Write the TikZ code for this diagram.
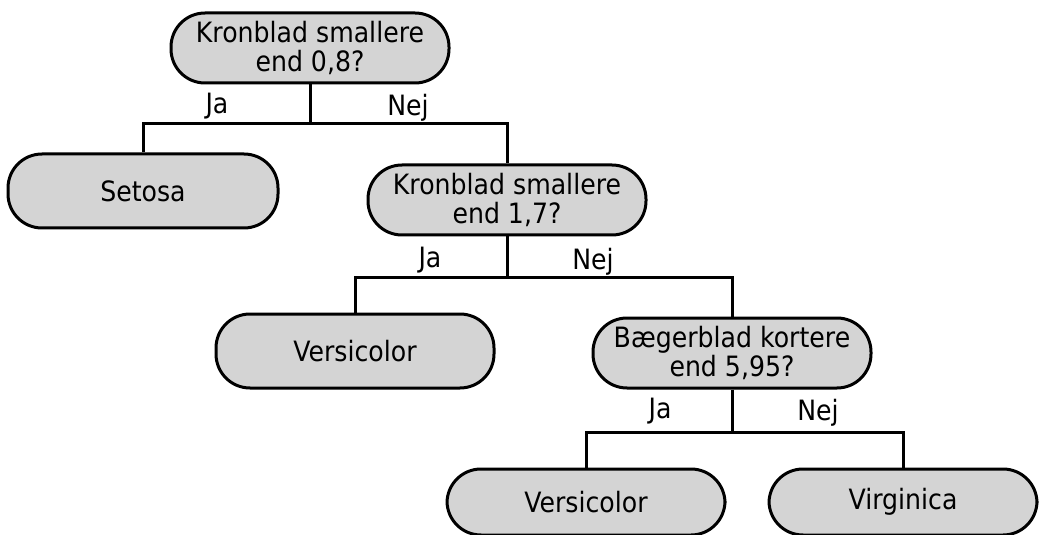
\documentclass[tikz,border=0pt]{standalone}
\usepackage{fontspec}
\setmainfont{DejaVu Sans}[FakeStretch=0.9]
\usepackage{tikz}
\usetikzlibrary{positioning}

\begin{document}
\begin{tikzpicture}[x=0.5pt,y=-0.5pt,
      font=\fontsize{14}{14.2}\selectfont,
      qbox/.style={draw,line width=1.5pt,fill=black!17,rounded corners=17pt,align=center,minimum width=139pt,minimum height=35pt,inner sep=2pt},
      leaf/.style={qbox,minimum height=37pt},
      link/.style={line width=1.5pt},
      ans/.style={inner sep=0pt}]
    \useasboundingbox (0,0) rectangle (1040,535);
    % questions
    \node[qbox] (q1) at (310,48) {Kronblad smallere\\end 0,8?};
    \node[qbox] (q2) at (507,200) {Kronblad smallere\\end 1,7?};
    \node[qbox] (q3) at (732,353) {Bægerblad kortere\\end 5,95?};
    % species
    \node[leaf,minimum width=135pt] (setosa) at (143,191) {Setosa};
    \node[leaf] (versi1) at (355,351) {Versicolor};
    \node[leaf,minimum height=33pt] (versi2) at (586,502) {Versicolor};
    \node[leaf,minimum height=33pt,minimum width=134pt] (virg) at (903,502) {Virginica};
    % branch points
    \coordinate (j1) at (310,124);
    \coordinate (j2) at (507,277);
    \coordinate (j3) at (732,432);
    \draw[link] (q1) -- (j1);
    \draw[link] (setosa.north) |- (j1) -| (q2.north);
    \draw[link] (q2) -- (j2);
    \draw[link] (versi1.north) |- (j2) -| (q3.north);
    \draw[link] (q3) -- (j3);
    \draw[link] (versi2.north) |- (j3) -| (virg.north);
    % Ja / Nej
    \node[ans] (ja1) at (217,106) {Ja};
    \node[ans] (nej1) at (408,108) {Nej};
    \node[ans] (ja2) at (430,260) {Ja};
    \node[ans] (nej2) at (593,262) {Nej};
    \node[ans] (ja3) at (660,411) {Ja};
    \node[ans] (nej3) at (818,413) {Nej};
  \end{tikzpicture}
\end{document}
